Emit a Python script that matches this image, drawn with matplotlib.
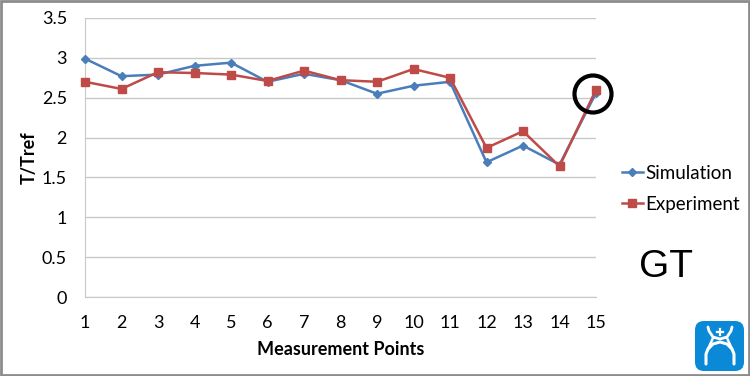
import matplotlib
matplotlib.use('Agg')
import matplotlib.pyplot as plt
from matplotlib.patches import FancyBboxPatch, Rectangle, Circle

plt.rcParams['font.family'] = ['Lato', 'DejaVu Sans']

W, H = 750, 376

# values
points = list(range(1, 16))
simulation = [2.99, 2.77, 2.79, 2.90, 2.94, 2.70, 2.80, 2.72, 2.55, 2.65, 2.70, 1.69, 1.90, 1.66, 2.56]
experiment = [2.70, 2.61, 2.82, 2.81, 2.79, 2.71, 2.84, 2.72, 2.70, 2.86, 2.75, 1.87, 2.08, 1.64, 2.60]
y_ticks = [0, 0.5, 1, 1.5, 2, 2.5, 3, 3.5]
y_labels = ['0', '0.5', '1', '1.5', '2', '2.5', '3', '3.5']

fig = plt.figure(figsize=(W / 100, H / 100), dpi=100)

# plot area in pixels, x=1 sits on the left edge and x=15 on the right
left, right, top, bottom = 85, 596, 18, 297
ax = fig.add_axes([left / W, 1 - bottom / H, (right - left) / W, (bottom - top) / H])
ax.set_xlim(1, 15)
ax.set_ylim(0, 3.5)

ax.plot(points, simulation, color='#4A7EBB', lw=1.8, marker='D', ms=4.5, label='Simulation', clip_on=False, zorder=3)
ax.plot(points, experiment, color='#BE4B48', lw=1.8, marker='s', ms=6.2, label='Experiment', clip_on=False, zorder=4)

ax.set_yticks(y_ticks, y_labels)
ax.set_xticks(points)
ax.tick_params(axis='both', length=0, labelsize=13, colors='black')
ax.tick_params(axis='x', pad=13)
ax.tick_params(axis='y', pad=13)
ax.grid(True, axis='y', color='#C8C8C8', lw=1)
ax.set_axisbelow(True)
for s in ['top', 'right']:
    ax.spines[s].set_visible(False)
ax.spines['left'].set_color('#C8C8C8')
ax.spines['bottom'].set_color('#C8C8C8')

ax.set_xlabel('Measurement Points', fontsize=13, fontweight='bold', labelpad=7)
ax.set_ylabel('T/Tref', fontsize=13, fontweight='bold', labelpad=3)

ax.legend(loc='upper left', bbox_to_anchor=(622 / W, 1 - 165 / H), bbox_transform=fig.transFigure,
          frameon=False, fontsize=13.5, handlelength=1.1, labelspacing=0.74, handletextpad=0.15,
          borderpad=0, borderaxespad=0)

# overlay in pixel coordinates for the annotations
ov = fig.add_axes([0, 0, 1, 1], facecolor='none')
ov.set_xlim(0, W)
ov.set_ylim(H, 0)
ov.axis('off')
ov.set_aspect('equal')

ov.add_patch(Rectangle((0.5, 0.5), W - 2, H - 1.5, fill=False, ec='#8C8C8C', lw=2))
ov.add_patch(Circle((593, 94), 18.5, fill=False, ec='black', lw=3))
ov.text(666, 267, 'GT', fontsize=28, family='Liberation Sans', ha='center', va='center')

# logo
ov.add_patch(FancyBboxPatch((695, 321), 49, 50, boxstyle='round,pad=0,rounding_size=9', fc='#0A8AD6', ec='none'))
# cup above the plus
ov.plot([708, 709, 713, 720, 727, 731, 732], [327, 331, 337, 339, 337, 331, 327], color='white', lw=2.0, solid_capstyle='round')
# arch and legs
ov.plot([706, 706, 708, 713, 720, 727, 732, 734, 734], [364, 354, 349, 344, 342, 344, 349, 354, 364], color='white', lw=2.2, solid_capstyle='round')
ov.plot([713, 708], [338, 349], color='white', lw=1.8)
ov.plot([727, 732], [338, 349], color='white', lw=1.8)
# plus
ov.plot([720, 720], [329, 335], color='white', lw=1.6)
ov.plot([717, 723], [332, 332], color='white', lw=1.6)

fig.savefig('out.png', dpi=100)
